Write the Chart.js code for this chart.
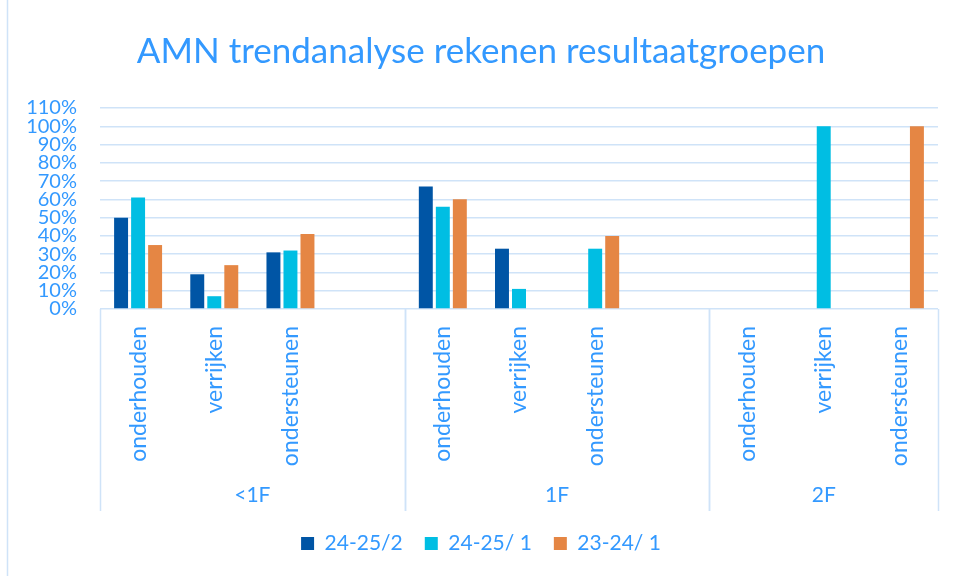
<!DOCTYPE html>
<html>
<head>
<meta charset="utf-8">
<script src="https://cdn.jsdelivr.net/npm/chart.js@4"></script>
<style>
  html, body { margin: 0; padding: 0; background: #fff; }
  #wrap { width: 955px; height: 576px; position: relative; }
</style>
</head>
<body>
<div id="wrap"><canvas id="chart" width="955" height="576"></canvas></div>
<script>
// Data
const categories = ['onderhouden', 'verrijken', 'ondersteunen', '',
                    'onderhouden', 'verrijken', 'ondersteunen', '',
                    'onderhouden', 'verrijken', 'ondersteunen'];
const groups = ['<1F', '1F', '2F'];
const groupSizes = [4, 4, 3];
const seriesNames = ['24-25/2', '24-25/ 1', '23-24/ 1'];
const serie2425_2 = [50, 19, 31, null, 67, 33, 0, null, 0, 0, 0];
const serie2425_1 = [61, 7, 32, null, 56, 11, 33, null, 0, 100, 0];
const serie2324_1 = [35, 24, 41, null, 60, 0, 40, null, 0, 0, 100];
const yTicks = [0, 10, 20, 30, 40, 50, 60, 70, 80, 90, 100, 110];

const textColor = '#3399FF';
const lineColor = '#CFE3F8';
const font = 'Lato';

// Groepslabels en scheidingslijnen onder de x-as
const groupAxisPlugin = {
    id: 'groupAxis',
    afterDraw(chart) {
        const ctx = chart.ctx;
        const x = chart.scales.x;
        const area = chart.chartArea;
        const w = x.width / categories.length;
        let start = 0;
        ctx.save();
        ctx.strokeStyle = lineColor;
        ctx.lineWidth = 1.5;
        ctx.fillStyle = textColor;
        ctx.font = '21px ' + font;
        ctx.textAlign = 'center';
        ctx.textBaseline = 'middle';
        const edges = [];
        groups.forEach((g, i) => {
            const left = x.getPixelForValue(start) - w / 2;
            const right = x.getPixelForValue(start + groupSizes[i] - 1) + w / 2;
            edges.push(left, right);
            ctx.fillText(g, (left + right) / 2, x.bottom - 16);
            start += groupSizes[i];
        });
        edges.forEach(e => {
            ctx.beginPath();
            ctx.moveTo(Math.round(e) + 0.5, area.bottom);
            ctx.lineTo(Math.round(e) + 0.5, x.bottom);
            ctx.stroke();
        });
        // linker rand van het grafiekvlak
        ctx.beginPath();
        ctx.moveTo(7.5, 0);
        ctx.lineTo(7.5, chart.height);
        ctx.stroke();
        ctx.restore();
    }
};

const ctx = document.getElementById('chart').getContext('2d');
const chart = new Chart(ctx, {
    type: 'bar',
    data: {
        labels: categories,
        datasets: [
            { label: seriesNames[0], data: serie2425_2, backgroundColor: '#0055A5' },
            { label: seriesNames[1], data: serie2425_1, backgroundColor: '#00BEE3' },
            { label: seriesNames[2], data: serie2324_1, backgroundColor: '#E58644' }
        ]
    },
    options: {
        responsive: false,
        animation: false,
        categoryPercentage: 0.67,
        barPercentage: 0.82,
        layout: { padding: { left: 24, right: 17, top: 0, bottom: 12 } },
        plugins: {
            title: {
                display: true,
                text: 'AMN trendanalyse rekenen resultaatgroepen',
                color: textColor,
                font: { family: font, size: 35, weight: 'normal' },
                padding: { top: 31, bottom: 35 }
            },
            legend: {
                position: 'bottom',
                labels: {
                    color: textColor,
                    font: { family: font, size: 21 },
                    boxWidth: 13,
                    boxHeight: 13,
                    padding: 22
                }
            },
            tooltip: { enabled: false }
        },
        scales: {
            x: {
                grid: { display: false },
                border: { display: false },
                ticks: {
                    color: textColor,
                    font: { family: font, size: 23 },
                    minRotation: 90,
                    maxRotation: 90,
                    autoSkip: false,
                    padding: 9
                },
                afterFit(scale) { scale.height = 202; }
            },
            y: {
                min: 0,
                max: 110,
                afterBuildTicks(scale) { scale.ticks = yTicks.map(v => ({ value: v })); },
                grid: { color: lineColor, lineWidth: 1.5, drawTicks: false },
                border: { display: false },
                ticks: {
                    color: textColor,
                    font: { family: font, size: 20 },
                    autoSkip: false,
                    padding: 23,
                    callback: v => v + '%'
                },
                afterFit(scale) { scale.width = 76; }
            }
        }
    },
    plugins: [groupAxisPlugin]
});
</script>
</body>
</html>
